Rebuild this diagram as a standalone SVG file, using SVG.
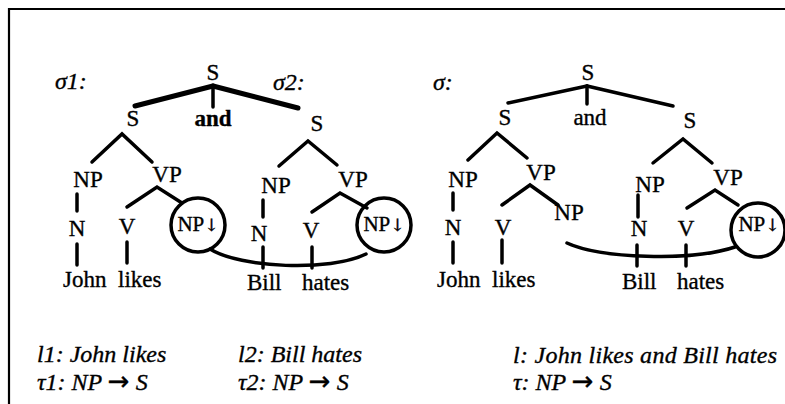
<svg xmlns="http://www.w3.org/2000/svg" width="785" height="404" viewBox="0 0 785 404">
<style>
text{font-family:'Liberation Serif','Times New Roman',serif;font-size:23px;fill:#000;stroke:#000;stroke-width:0.35}
.c{text-anchor:middle}
.i{font-style:italic;font-size:24px}
.b{font-weight:bold}
.e{fill:none;stroke:#000;stroke-width:3.5;stroke-linecap:round}
.t{stroke-width:5}
.r{fill:none;stroke:#000;stroke-width:3.5}
.sm{font-size:21px}
.dn{font-family:'DejaVu Serif',serif;font-size:17px}
.ar{font-family:'DejaVu Sans',sans-serif;font-style:normal;font-size:26px}
</style>
<rect width="785" height="404" fill="#fff"/>
<path d="M9,404 V9 H785" fill="none" stroke="#000" stroke-width="2.2"/>
<g id="connectors">
<path class="e" d="M213,86 V107"/>
<path class="e t" d="M213,86 L135,106"/>
<path class="e t" d="M213,86 L298,108"/>
<path class="e" d="M92,162 L122,134 L152,162"/>
<path class="e" d="M77,194 V211"/>
<path class="e" d="M77,244 V265"/>
<path class="e" d="M127,207 L157,187 L182,203"/>
<path class="e" d="M127,242 V263"/>
<path class="e" d="M279,166 L308,141 L337,165"/>
<path class="e" d="M263,200 V217"/>
<path class="e" d="M263,247 V268"/>
<path class="e" d="M312,212 L340,193 L367,208"/>
<path class="e" d="M312,247 V268"/>
<path class="e" d="M210,249 C240,268 330,272 366,254" stroke-width="4"/>
<path class="e" d="M587,86 V104"/>
<path class="e" d="M587,86 L508,103"/>
<path class="e" d="M587,86 L673,106"/>
<path class="e" d="M468,160 L497,133 L527,158"/>
<path class="e" d="M453,193 V210"/>
<path class="e" d="M453,242 V263"/>
<path class="e" d="M502,205 L530,185 L558,205"/>
<path class="e" d="M502,240 V263"/>
<path class="e" d="M653,163 L683,139 L712,163"/>
<path class="e" d="M638,195 V217"/>
<path class="e" d="M637,245 V266"/>
<path class="e" d="M687,208 L715,190 L738,205"/>
<path class="e" d="M686,245 V266"/>
<path class="e" d="M567,243 C600,258 690,262 735,247" stroke-width="4"/>
</g>
<g font-family="Liberation Serif, serif">
<g id="lab-sigma1"><text class="i" x="55" y="89">σ1:</text></g>
<g id="s1-S"><text class="c" x="213" y="80">S</text></g>
<g id="s1-S-left"><text class="c" x="133" y="126">S</text></g>
<g id="s1-and"><text class="c b" x="213" y="126">and</text></g>
<g id="s1-NP"><text class="c" x="88" y="187">NP</text></g>
<g id="s1-VP"><text class="c" x="167" y="182">VP</text></g>
<g id="s1-N"><text class="c" x="77" y="236">N</text></g>
<g id="s1-V"><text class="c" x="127" y="234">V</text></g>
<g id="s1-NPsub"><circle class="r" cx="198" cy="225" r="27"/><text class="c sm" x="198" y="231">NP<tspan class="dn">↓</tspan></text></g>
<g id="s1-John"><text x="63" y="287">John</text></g>
<g id="s1-likes"><text x="118" y="287">likes</text></g>
<g id="lab-sigma2"><text class="i" x="273" y="90">σ2:</text></g>
<g id="s2-S"><text class="c" x="317" y="131">S</text></g>
<g id="s2-NP"><text class="c" x="276" y="193">NP</text></g>
<g id="s2-VP"><text class="c" x="353" y="187">VP</text></g>
<g id="s2-N"><text class="c" x="259" y="241">N</text></g>
<g id="s2-V"><text class="c" x="311" y="238">V</text></g>
<g id="s2-NPsub"><circle class="r" cx="384" cy="225" r="27"/><text class="c sm" x="384" y="231">NP<tspan class="dn">↓</tspan></text></g>
<g id="s2-Bill"><text x="247" y="290">Bill</text></g>
<g id="s2-hates"><text x="302" y="290">hates</text></g>
<g id="lab-sigma"><text class="i" x="433" y="90">σ:</text></g>
<g id="s-S"><text class="c" x="588" y="80">S</text></g>
<g id="s-S-left"><text class="c" x="505" y="125">S</text></g>
<g id="s-and"><text class="c" x="590" y="125">and</text></g>
<g id="s-S-right"><text class="c" x="690" y="128">S</text></g>
<g id="s-NP1"><text class="c" x="463" y="187">NP</text></g>
<g id="s-VP1"><text class="c" x="541" y="180">VP</text></g>
<g id="s-N1"><text class="c" x="453" y="235">N</text></g>
<g id="s-V1"><text class="c" x="503" y="235">V</text></g>
<g id="s-NPobj"><text class="c" x="569" y="220">NP</text></g>
<g id="s-John"><text x="437" y="287">John</text></g>
<g id="s-likes"><text x="492" y="287">likes</text></g>
<g id="s-NP2"><text class="c" x="650" y="192">NP</text></g>
<g id="s-VP2"><text class="c" x="728" y="185">VP</text></g>
<g id="s-N2"><text class="c" x="639" y="236">N</text></g>
<g id="s-V2"><text class="c" x="686" y="236">V</text></g>
<g id="s-NPsub"><circle class="r" cx="758" cy="230" r="27"/><text class="c sm" x="759" y="231">NP<tspan class="dn">↓</tspan></text></g>
<g id="s-Bill"><text x="622" y="289">Bill</text></g>
<g id="s-hates"><text x="677" y="289">hates</text></g>
<g id="l1"><text class="i" x="37" y="362">l1: John likes</text></g>
<g id="t1"><text class="i" x="37" y="390">τ1: NP <tspan class="ar">→</tspan> S</text></g>
<g id="l2"><text class="i" x="238" y="362">l2: Bill hates</text></g>
<g id="t2"><text class="i" x="238" y="390">τ2: NP <tspan class="ar">→</tspan> S</text></g>
<g id="l"><text class="i" x="513" y="363" textLength="264" lengthAdjust="spacing">l: John likes and Bill hates</text></g>
<g id="t"><text class="i" x="513" y="390">τ: NP <tspan class="ar">→</tspan> S</text></g>
</g>
</svg>
